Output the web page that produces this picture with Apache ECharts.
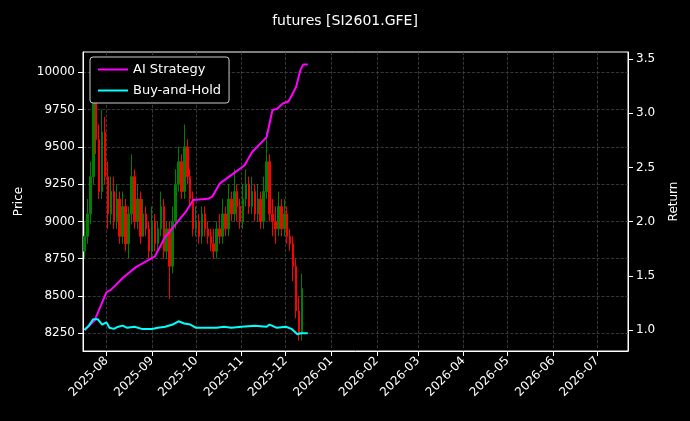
<!DOCTYPE html>
<html>
<head>
<meta charset="utf-8">
<script src="https://cdn.jsdelivr.net/npm/echarts@6/dist/echarts.min.js"></script>
<style>
    html, body {margin: 0; padding: 0; background: #000;}
    #chart {width: 690px; height: 421px;}
</style>
</head>
<body>
<div id="chart"></div>
<script>
// candles every 2 days from 2025-07-17
var candleStart = '2025-07-17';
var opens = [8800, 8900, 9050, 9300, 9800, 9550, 9200, 9600,
    9300, 9050, 9200, 9000, 9150, 8900, 9100, 8850, 9050, 9300, 9000, 9150, 8900, 9050, 8950,
    8800, 9000, 8850, 8950, 9100, 8800, 8950, 8700, 9000, 9250, 9400, 9200, 9500, 9300, 9150,
    8950, 9000, 8900, 9050, 8950, 8900, 8850, 8800, 8950, 8900, 9050, 8950, 9150, 9050, 9200, 9100,
    9000, 9150, 9250, 9100, 9200, 9050, 9150, 9000, 9200, 9400, 9050, 9000, 8950, 9100, 8950,
    9050, 8900, 8850, 8700, 8400, 8250];
var closes = [8900, 9050, 9300, 9800, 9550, 9200, 9600, 9300,
    9050, 9200, 9000, 9150, 8900, 9100, 8850, 9050, 9300, 9000, 9150, 8900, 9050, 8950, 8800,
    9000, 8850, 8950, 9100, 8800, 8950, 8700, 9000, 9250, 9400, 9200, 9500, 9300, 9150, 8950,
    9000, 8900, 9050, 8950, 8900, 8850, 8800, 8950, 8900, 9050, 8950, 9150, 9050, 9200, 9100, 9000,
    9150, 9250, 9100, 9200, 9050, 9150, 9000, 9200, 9400, 9050, 9000, 8950, 9100, 8950, 9050,
    8900, 8850, 8700, 8400, 8250, 8550];
var highs = [9000, 9150, 9400, 10100, 10000, 9650, 9750, 9700,
    9400, 9300, 9300, 9250, 9200, 9200, 9150, 9100, 9450, 9350, 9250, 9200, 9150, 9100, 9000,
    9100, 9050, 9000, 9200, 9150, 9000, 9000, 9100, 9350, 9500, 9450, 9650, 9550, 9350, 9200,
    9100, 9050, 9100, 9100, 9000, 8950, 8950, 9000, 9050, 9150, 9100, 9250, 9200, 9350, 9250, 9150,
    9250, 9350, 9300, 9300, 9250, 9250, 9200, 9300, 9600, 9450, 9150, 9100, 9200, 9150, 9150,
    9100, 8950, 8900, 8750, 8500, 8650];
var lows = [8750, 8850, 8980, 9250, 9450, 9150, 9150, 9250,
    8950, 8980, 8950, 8950, 8850, 8850, 8800, 8750, 8980, 8950, 8950, 8850, 8900, 8900, 8750,
    8750, 8800, 8800, 8900, 8750, 8750, 8480, 8650, 8950, 9200, 9150, 9150, 9250, 9100, 8900,
    8900, 8850, 8850, 8900, 8850, 8800, 8750, 8750, 8850, 8850, 8900, 8900, 9000, 9000, 9000, 8950,
    8950, 9100, 9050, 9050, 9000, 9000, 8950, 8950, 9150, 9000, 8900, 8850, 8900, 8900, 8900,
    8850, 8800, 8600, 8350, 8200, 8200];

var aiDates = ['2025-07-17', '2025-07-24', '2025-08-01', '2025-08-04', '2025-08-12', '2025-08-21',
    '2025-09-03', '2025-09-10', '2025-09-12', '2025-09-19', '2025-09-24', '2025-09-29', '2025-10-09',
    '2025-10-12', '2025-10-17', '2025-10-27', '2025-11-03', '2025-11-08', '2025-11-18', '2025-11-22',
    '2025-11-25', '2025-11-29', '2025-12-03', '2025-12-08', '2025-12-11', '2025-12-13', '2025-12-16'];
var aiValues = [1.0, 1.09, 1.35, 1.37, 1.48, 1.58, 1.68, 1.86, 1.89, 2.01, 2.09, 2.2, 2.21,
    2.23, 2.35, 2.45, 2.52, 2.64, 2.78, 3.03, 3.04, 3.09, 3.11, 3.24, 3.40, 3.45, 3.45];

var bhDates = ['2025-07-17', '2025-07-20', '2025-07-23', '2025-07-26', '2025-07-29', '2025-08-01',
    '2025-08-03', '2025-08-06', '2025-08-09', '2025-08-12', '2025-08-15', '2025-08-20', '2025-08-25',
    '2025-09-01', '2025-09-05', '2025-09-10', '2025-09-15', '2025-09-19', '2025-09-23', '2025-09-27',
    '2025-10-01', '2025-10-15', '2025-10-20', '2025-10-25', '2025-11-01', '2025-11-10', '2025-11-18',
    '2025-11-20', '2025-11-25', '2025-12-01', '2025-12-05', '2025-12-09', '2025-12-11', '2025-12-16'];
var bhValues = [1.0, 1.04, 1.1, 1.1, 1.05, 1.07, 1.02, 1.01, 1.03, 1.04, 1.02, 1.03, 1.01,
    1.01, 1.02, 1.03, 1.05, 1.08, 1.06, 1.05, 1.02, 1.02, 1.03, 1.02, 1.03, 1.04, 1.03,
    1.05, 1.02, 1.03, 1.01, 0.96, 0.97, 0.97];

var priceTicks = [8250, 8500, 8750, 9000, 9250, 9500, 9750, 10000];
var returnTicks = [1.0, 1.5, 2.0, 2.5, 3.0, 3.5];

var candleData = [];
var t0 = new Date(candleStart + 'T00:00:00Z').getTime();
for (var i = 0; i < closes.length; i++) {
    candleData.push([t0 + i * 2 * 86400000, opens[i], closes[i], lows[i], highs[i]]);
}
function pairs(d, v) {
    return d.map(function (x, i) { return [x, v[i]]; });
}

var gridLine = {color: '#444', type: 'dashed', width: 0.8};
var textStyle = {color: '#fff', fontSize: 12, fontFamily: 'DejaVu Sans'};

echarts.init(document.getElementById('chart')).setOption({
    backgroundColor: '#000',
    animation: false,
    textStyle: {fontFamily: 'DejaVu Sans'},
    title: {
        text: 'futures [SI2601.GFE]', left: 'center', top: 9,
        textStyle: {color: '#fff', fontSize: 14, fontWeight: 'normal', fontFamily: 'DejaVu Sans'}
    },
    legend: {
        left: 90, top: 57, orient: 'vertical', itemGap: 8,
        backgroundColor: '#000', borderColor: '#ccc', borderWidth: 1, borderRadius: 3, padding: [6, 8],
        itemWidth: 30, itemHeight: 2,
        textStyle: {color: '#fff', fontSize: 13, fontFamily: 'DejaVu Sans'},
        data: [{name: 'AI Strategy', icon: 'rect'}, {name: 'Buy-and-Hold', icon: 'rect'}]
    },
    grid: {left: 83, right: 62, top: 52, bottom: 70, show: true, borderColor: '#fff', borderWidth: 1},
    xAxis: {
        type: 'time',
        min: '2025-07-16', max: '2026-07-22',
        splitNumber: 12,
        axisLine: {lineStyle: {color: '#fff'}}, axisTick: {show: true, lineStyle: {color: '#fff'}},
        axisLabel: {color: '#fff', fontSize: 12, rotate: 45, formatter: '{yyyy}-{MM}', hideOverlap: false},
        splitLine: {show: true, lineStyle: gridLine}
    },
    yAxis: [{
        type: 'value', name: 'Price', nameLocation: 'middle', nameGap: 58,
        nameTextStyle: textStyle,
        min: 8131, max: 10136,
        axisLine: {show: true, lineStyle: {color: '#fff'}},
        axisTick: {show: true, customValues: priceTicks, lineStyle: {color: '#fff'}},
        axisLabel: {color: '#fff', fontSize: 12, customValues: priceTicks,
            formatter: function (v) { return String(v); }},
        splitLine: {show: false}
    }, {
        type: 'value', name: 'Return', nameLocation: 'middle', nameGap: 40,
        nameTextStyle: textStyle,
        min: 0.806, max: 3.565,
        axisLine: {show: true, lineStyle: {color: '#fff'}},
        axisTick: {show: true, customValues: returnTicks, lineStyle: {color: '#fff'}},
        axisLabel: {color: '#fff', fontSize: 12, customValues: returnTicks,
            formatter: function (v) { return v.toFixed(1); }},
        splitLine: {show: false}
    }],
    series: [{
        type: 'candlestick', yAxisIndex: 0, barMaxWidth: 2,
        itemStyle: {color: '#008000', color0: '#ff0000', borderColor: '#008000', borderColor0: '#ff0000', borderWidth: 1},
        data: candleData,
        markLine: {
            silent: true, symbol: 'none', label: {show: false}, z: 0,
            lineStyle: gridLine,
            data: priceTicks.map(function (v) { return {yAxis: v}; })
        }
    }, {
        name: 'AI Strategy', type: 'line', yAxisIndex: 1, showSymbol: false,
        lineStyle: {color: '#ff00ff', width: 2}, itemStyle: {color: '#ff00ff'},
        data: pairs(aiDates, aiValues)
    }, {
        name: 'Buy-and-Hold', type: 'line', yAxisIndex: 1, showSymbol: false,
        lineStyle: {color: '#00ffff', width: 2}, itemStyle: {color: '#00ffff'},
        data: pairs(bhDates, bhValues)
    }]
});
</script>
</body>
</html>
